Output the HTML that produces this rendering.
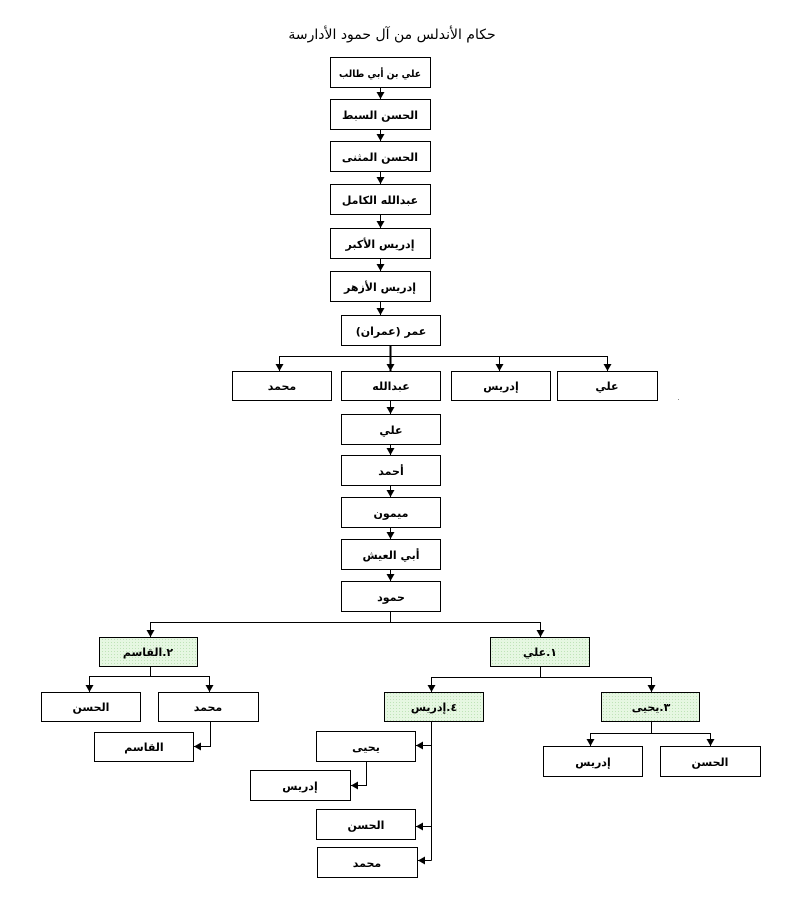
<!DOCTYPE html>
<html><head><meta charset="utf-8"><style>
html,body{margin:0;padding:0;background:#fff;}
svg{display:block;}
text{font-family:"DejaVu Sans","Liberation Sans",sans-serif;font-size:11px;font-weight:bold;fill:#000;}
.t{font-family:"DejaVu Sans","Liberation Sans",sans-serif;font-size:14px;font-weight:normal;}
</style></head><body>
<svg width="786" height="918" viewBox="0 0 786 918" xmlns="http://www.w3.org/2000/svg">
<defs>
<pattern id="g" width="3" height="3" patternUnits="userSpaceOnUse"><rect width="3" height="3" fill="#e6f7e2"/><rect width="1" height="1" fill="#bfe3b8"/></pattern>
<marker id="a" markerWidth="8" markerHeight="8" refX="7" refY="4" orient="auto" markerUnits="userSpaceOnUse"><path d="M0,0 L7,4 L0,8 Z" fill="#000"/></marker>
</defs>
<text class="t" x="392" y="39" text-anchor="middle" direction="rtl">حكام الأندلس من آل حمود الأدارسة</text>
<g fill="#fff" stroke="#000" stroke-width="1">
<rect x="330.5" y="57.5" width="100" height="30"/>
<rect x="330.5" y="99.5" width="100" height="30"/>
<rect x="330.5" y="141.5" width="100" height="30"/>
<rect x="330.5" y="184.5" width="100" height="30"/>
<rect x="330.5" y="228.5" width="100" height="30"/>
<rect x="330.5" y="271.5" width="100" height="30"/>
<rect x="341.5" y="315.5" width="99" height="30"/>
<rect x="232.5" y="371.5" width="99" height="29"/>
<rect x="341.5" y="371.5" width="99" height="29"/>
<rect x="451.5" y="371.5" width="99" height="29"/>
<rect x="557.5" y="371.5" width="100" height="29"/>
<rect x="341.5" y="414.5" width="99" height="30"/>
<rect x="341.5" y="455.5" width="99" height="30"/>
<rect x="341.5" y="497.5" width="99" height="30"/>
<rect x="341.5" y="539.5" width="99" height="30"/>
<rect x="341.5" y="581.5" width="99" height="30"/>
<rect x="99.5" y="637.5" width="98" height="29" fill="url(#g)"/>
<rect x="490.5" y="637.5" width="99" height="29" fill="url(#g)"/>
<rect x="41.5" y="692.5" width="99" height="29"/>
<rect x="158.5" y="692.5" width="100" height="29"/>
<rect x="94.5" y="732.5" width="99" height="29"/>
<rect x="384.5" y="692.5" width="99" height="29" fill="url(#g)"/>
<rect x="601.5" y="692.5" width="98" height="29" fill="url(#g)"/>
<rect x="316.5" y="731.5" width="99" height="30"/>
<rect x="250.5" y="770.5" width="100" height="30"/>
<rect x="316.5" y="809.5" width="99" height="30"/>
<rect x="317.5" y="847.5" width="100" height="30"/>
<rect x="543.5" y="746.5" width="99" height="30"/>
<rect x="660.5" y="746.5" width="100" height="30"/>
</g>
<g stroke="#000" stroke-width="1" fill="none">
<path d="M380.5 87 V99" marker-end="url(#a)"/>
<path d="M380.5 129 V141" marker-end="url(#a)"/>
<path d="M380.5 171 V184" marker-end="url(#a)"/>
<path d="M380.5 214 V228" marker-end="url(#a)"/>
<path d="M380.5 258 V271" marker-end="url(#a)"/>
<path d="M380.5 301 V315" marker-end="url(#a)"/>
<path d="M279.5 356.5 H607.5"/>
<path d="M279.5 356 V371" marker-end="url(#a)"/>
<path d="M499.5 356 V371" marker-end="url(#a)"/>
<path d="M607.5 356 V371" marker-end="url(#a)"/>
<path d="M390.5 345 V371" stroke-width="2" marker-end="url(#a)"/>
<path d="M390.5 401 V414" marker-end="url(#a)"/>
<path d="M390.5 444 V455" marker-end="url(#a)"/>
<path d="M390.5 485 V497" marker-end="url(#a)"/>
<path d="M390.5 527 V539" marker-end="url(#a)"/>
<path d="M390.5 569 V581" marker-end="url(#a)"/>
<path d="M390.5 611 V622.5 M150.5 622.5 H540.5"/>
<path d="M150.5 622 V637" marker-end="url(#a)"/>
<path d="M540.5 622 V637" marker-end="url(#a)"/>
<path d="M150.5 666 V676.5 M89.5 676.5 H209.5"/>
<path d="M89.5 676 V692" marker-end="url(#a)"/>
<path d="M209.5 676 V692" marker-end="url(#a)"/>
<path d="M210.5 721 V746.5 H194" marker-end="url(#a)"/>
<path d="M540.5 666 V677.5 M431.5 677.5 H651.5"/>
<path d="M431.5 677 V692" marker-end="url(#a)"/>
<path d="M651.5 677 V692" marker-end="url(#a)"/>
<path d="M431.5 721 V860.5"/>
<path d="M431.5 745.5 H416" marker-end="url(#a)"/>
<path d="M431.5 826.5 H416" marker-end="url(#a)"/>
<path d="M431.5 860.5 H418" marker-end="url(#a)"/>
<path d="M366.5 761 V785.5 H351" marker-end="url(#a)"/>
<path d="M651.5 721 V733.5 M590.5 733.5 H710.5"/>
<path d="M590.5 733 V746" marker-end="url(#a)"/>
<path d="M710.5 733 V746" marker-end="url(#a)"/>
</g>
<rect x="678" y="399" width="1" height="1" fill="#888"/>
<g text-anchor="middle" direction="rtl">
<text x="380" y="77" style="font-size:10px" textLength="82" lengthAdjust="spacingAndGlyphs">علي بن أبي طالب</text>
<text x="380" y="119">الحسن السبط</text>
<text x="380" y="161">الحسن المثنى</text>
<text x="380" y="204">عبدالله الكامل</text>
<text x="380" y="248">إدريس الأكبر</text>
<text x="380" y="291">إدريس الأزهر</text>
<text x="391" y="335">عمر (عمران)</text>
<text x="282" y="390">محمد</text>
<text x="391" y="390">عبدالله</text>
<text x="501" y="390">إدريس</text>
<text x="607" y="390">علي</text>
<text x="391" y="434">علي</text>
<text x="391" y="475">أحمد</text>
<text x="391" y="517">ميمون</text>
<text x="391" y="559">أبي العيش</text>
<text x="391" y="601">حمود</text>
<text x="148" y="656">٢.القاسم</text>
<text x="540" y="656">١.علي</text>
<text x="91" y="711">الحسن</text>
<text x="208" y="711">محمد</text>
<text x="144" y="751">القاسم</text>
<text x="434" y="711">٤.إدريس</text>
<text x="651" y="711">٣.يحيى</text>
<text x="366" y="751">يحيى</text>
<text x="300" y="790">إدريس</text>
<text x="366" y="829">الحسن</text>
<text x="367" y="867">محمد</text>
<text x="593" y="766">إدريس</text>
<text x="710" y="766">الحسن</text>
</g>
</svg>
</body></html>
